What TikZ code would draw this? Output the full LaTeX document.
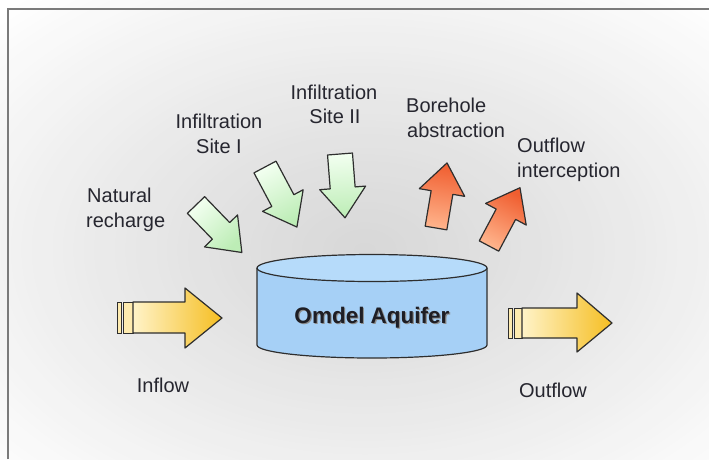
\documentclass[tikz,border=0pt]{standalone}
\usepackage{fontspec}
\setmainfont{Liberation Sans}
\definecolor{txt}{HTML}{26262F}
\definecolor{edge}{HTML}{2E2E2E}
\definecolor{frame}{HTML}{7A7A7A}
\definecolor{greenL}{HTML}{F2FFF0}
\definecolor{greenD}{HTML}{BDEDB6}
\definecolor{redL}{HTML}{FFB48C}
\definecolor{redD}{HTML}{F05E30}
\definecolor{yelL}{HTML}{FFF3C8}
\definecolor{yelD}{HTML}{F5BE22}
\definecolor{cylSide}{HTML}{A6D0F6}
\definecolor{cylMid}{HTML}{E2F1FF}
\definecolor{cylTop}{HTML}{B6DBFA}
\tikzset{
  outline/.style={draw=edge, line width=1.2pt, line join=round},
  lbl/.style={inner sep=0pt, text=txt, font=\fontsize{20}{24}\selectfont},
  greenarrow/.style={outline, shading=axis, top color=greenD, bottom color=greenL},
  redarrow/.style={outline, shading=axis, top color=redD, bottom color=redL},
  yelarrow/.style={outline, shading=axis, left color=yelL, right color=yelD},
  yelbar/.style={draw=edge, line width=0.9pt, fill=yelL!85!yelD},
}
% #1 name, #2 tail point, #3 angle, #4 style, #5 length, #6 half shaft width
\newcommand{\fatarrow}[6]{%
  \pgfmathsetmacro{\myshang}{#3-90}%
  \begin{scope}[shift={#2}, rotate=#3]
    \path[#4, shading angle=\myshang] (0,-#6) -- (#5-30,-#6) -- (#5-30,-23) -- (#5,0) -- (#5-30,23) -- (#5-30,#6) -- (0,#6) -- cycle;
    \coordinate (#1) at (#5,0);
  \end{scope}}
\begin{document}
\begin{tikzpicture}[x=1pt, y=-1pt]
\useasboundingbox (0,0) rectangle (709,459);
\fill[white] (0,0) rectangle (709,459);
% background glow: nested ellipses, light outside to darker centre
\foreach \i in {50,...,1}{%
  \pgfmathsetmacro{\tt}{\i/50}%
  \pgfmathtruncatemacro{\gv}{min(255,216+39*(\tt)^1.1)}%
  \definecolor{bgtmp}{RGB}{\gv,\gv,\gv}%
  \fill[bgtmp] (365,250) ellipse[x radius={520*\tt*1pt}, y radius={340*\tt*1pt}];
}
% frame
\draw[frame, line width=2pt] (8,459) -- (8,9) -- (709,9);

% green arrows (inflows from above)
\fatarrow{natural}{(196,205)}{-46}{greenarrow}{66}{12}
\fatarrow{site1}{(265,167)}{-62}{greenarrow}{68}{12.5}
\fatarrow{site2}{(340,154)}{-85.5}{greenarrow}{64}{12.5}
% red arrows (outflows upward)
\fatarrow{borehole}{(436,228)}{80.4}{redarrow}{66}{11}
\fatarrow{intercept}{(489,246)}{62}{redarrow}{66}{11}

% cylinder
\path[shading=axis, left color=cylSide, middle color=cylMid, right color=cylSide]
  (257,268) -- (257,345) arc[start angle=180, end angle=360, x radius=115pt, y radius=13pt] -- (487,268) -- cycle;
\draw[outline] (257,268) -- (257,345) arc[start angle=180, end angle=360, x radius=115pt, y radius=13pt] -- (487,268);
\draw[outline, fill=cylTop] (372,268) ellipse[x radius=115pt, y radius=13.5pt];
\node[inner sep=0pt, anchor=base, text=black!45, font=\fontsize{22.5}{26}\selectfont\bfseries] (aqshadow) at (373.2,324.2) {Omdel Aquifer};
\node[inner sep=0pt, anchor=base, text=txt!80!black, font=\fontsize{22.5}{26}\selectfont\bfseries] (aquifer) at (372,323) {Omdel Aquifer};

% inflow arrow
\path[yelbar] (117,302) rectangle (121,333);
\path[yelbar] (123.5,302) rectangle (133,333);
\path[yelarrow] (133,302) -- (185,302) -- (185,288) -- (222,318) -- (185,348) -- (185,333) -- (133,333) -- cycle;
\coordinate (inflowtip) at (222,318);
% outflow arrow
\path[yelbar] (508,308) rectangle (512,338);
\path[yelbar] (514.5,308) rectangle (522,338);
\path[yelarrow] (522,308) -- (577,308) -- (577,293) -- (612,323) -- (577,352) -- (577,338) -- (522,338) -- cycle;
\coordinate (outflowtip) at (612,323);

% labels
\node[lbl, anchor=base west] (nat1) at (87,202) {Natural};
\node[lbl, anchor=base west] (nat2) at (86,227) {recharge};
\node[lbl, anchor=base] (s1a) at (219,128) {Infiltration};
\node[lbl, anchor=base] (s1b) at (219,153) {Site I};
\node[lbl, anchor=base] (s2a) at (334,99) {Infiltration};
\node[lbl, anchor=base] (s2b) at (335,123) {Site II};
\node[lbl, anchor=base west] (bh1) at (406,112) {Borehole};
\node[lbl, anchor=base west] (bh2) at (407,137) {abstraction};
\node[lbl, anchor=base west] (oi1) at (517,152) {Outflow};
\node[lbl, anchor=base west] (oi2) at (517,177) {interception};
\node[lbl, anchor=base] (inlbl) at (163,392) {Inflow};
\node[lbl, anchor=base] (outlbl) at (553,397) {Outflow};
\end{tikzpicture}
\end{document}
